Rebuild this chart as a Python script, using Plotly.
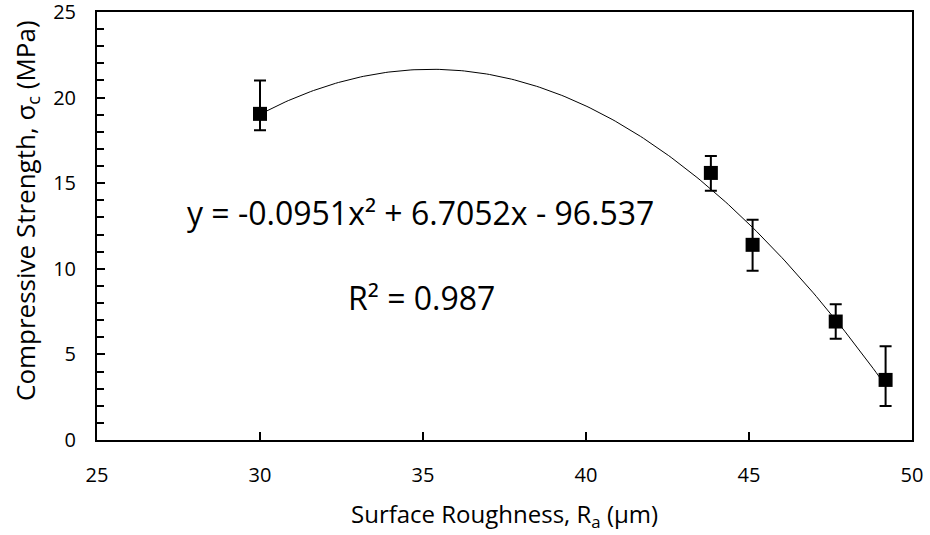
import numpy as np
import plotly.graph_objects as go

# Data
roughness = [30.0, 43.83, 45.11, 47.66, 49.19]
strength = [19.05, 15.6, 11.4, 6.92, 3.51]
err_plus = [1.95, 0.99, 1.47, 1.01, 1.97]
err_minus = [0.95, 1.04, 1.52, 1.01, 1.52]

# Trendline coefficients as displayed on the chart
poly_coef = [-0.0951, 6.7052, -96.537]
trend_x = np.linspace(min(roughness), max(roughness), 200)
trend_y = np.polyval(poly_coef, trend_x)

font_family = "Open Sans, Lato, sans-serif"

fig = go.Figure()
fig.add_trace(go.Scatter(
    x=trend_x, y=trend_y, mode="lines",
    line=dict(color="black", width=1), showlegend=False, hoverinfo="skip"))
fig.add_trace(go.Scatter(
    x=roughness, y=strength, mode="markers",
    marker=dict(symbol="square", size=14, color="black"),
    error_y=dict(type="data", symmetric=False, array=err_plus, arrayminus=err_minus,
                 color="black", thickness=2, width=6),
    showlegend=False))

fig.add_annotation(
    x=34.92, y=13.27, xref="x", yref="y", showarrow=False,
    xanchor="center", yanchor="middle",
    text="y = -0.0951x² + 6.7052x - 96.537",
    font=dict(size=32, color="black", family=font_family))
fig.add_annotation(
    x=34.95, y=8.3, xref="x", yref="y", showarrow=False,
    xanchor="center", yanchor="middle",
    text="R² = 0.987",
    font=dict(size=32, color="black", family=font_family))

# Axis titles
fig.add_annotation(
    x=0.5006, y=-0.175, xref="paper", yref="paper", showarrow=False,
    xanchor="center", yanchor="middle",
    text="Surface Roughness, R<sub>a</sub> (μm)",
    font=dict(size=24, color="black", family=font_family))
fig.add_annotation(
    x=-0.088, y=0.5357, xref="paper", yref="paper", showarrow=False, textangle=-90,
    xanchor="center", yanchor="middle",
    text="Compressive Strength, σ<sub>c</sub> (MPa)",
    font=dict(size=26, color="black", family=font_family))

fig.update_xaxes(
    range=[25, 50], tickmode="linear", tick0=25, dtick=5,
    ticks="inside", ticklen=8, tickwidth=2, tickcolor="black",
    showline=True, linewidth=2, linecolor="black", mirror=True,
    showgrid=False, zeroline=False, automargin=False,
    ticklabelstandoff=16, ticklabeloverflow="allow",
    tickfont=dict(size=20, color="black", family=font_family))
fig.update_yaxes(
    range=[0, 25], tickmode="linear", tick0=0, dtick=5,
    ticks="inside", ticklen=8, tickwidth=2, tickcolor="black",
    minor=dict(ticks="inside", ticklen=7, tickwidth=2, tickcolor="black", dtick=1, showgrid=False),
    showline=True, linewidth=2, linecolor="black", mirror=True,
    showgrid=False, zeroline=False, automargin=False,
    ticklabelstandoff=15, ticklabeloverflow="allow",
    tickfont=dict(size=20, color="black", family=font_family))

fig.update_layout(
    width=930, height=535,
    margin=dict(l=97, r=18, t=12, b=95, autoexpand=False),
    plot_bgcolor="white", paper_bgcolor="white",
)

fig.write_html("out.html", config={"displayModeBar": False},
               post_script="document.body.style.margin='0';")
